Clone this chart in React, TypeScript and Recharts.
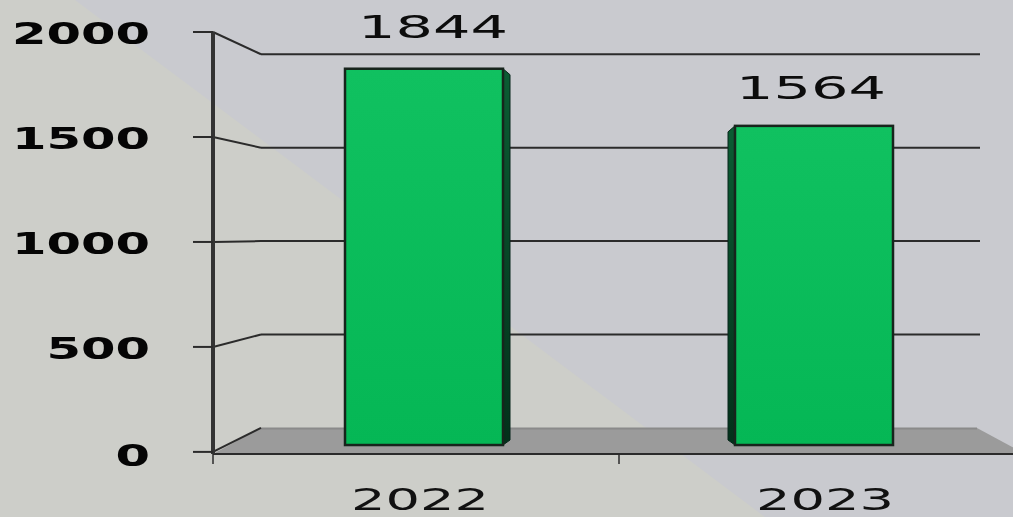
import { Bar, ComposedChart, LabelList, Line, ReferenceArea, ReferenceLine, XAxis, YAxis } from 'recharts';

const years = ['2022', '2023'];
const totals = [1844, 1564];
const yTicks = [0, 500, 1000, 1500, 2000];
const wallLines = [500, 1000, 1500, 2000];

const rows = years.map((year, i) => ({ year, total: totals[i] }));

const FONT = '"DejaVu Sans", sans-serif';
const INK = '#2b2b2b';
const DEPTH = 812; // width of the hidden depth axis
const DEPTH_STEP = 48;
const WALL_END = 767;
const BEHIND_BARS = 200;

// value on the front axis that lands on the same height as v on the back wall
const wall = (v: number) => 114 + 0.89 * v;

const floorEdge = [{ d: 0, y: 0 }, { d: DEPTH_STEP, y: wall(0) }];

function YTick({ y, payload }: any) {
  const label = String(payload.value);
  return (
    <text x={150} y={y + (payload.value === 0 ? 14 : 12)} textAnchor="end" fontFamily={FONT} fontWeight={700} fontSize={31} fill="#050505"
      textLength={label.length * 34.5} lengthAdjust="spacingAndGlyphs">
      {label}
    </text>
  );
}

function YearTick({ x, y, payload, index }: any) {
  const nudge = [4, 3][index] ?? 0;
  return (
    <g>
      <line x1={x - 203} x2={x - 203} y1={y - 8} y2={y + 2} stroke={INK} strokeWidth={1.5} />
      <text x={x + nudge} y={510} textAnchor="middle" fontFamily={FONT} fontSize={30} fill="#111"
        textLength={138} lengthAdjust="spacingAndGlyphs">
        {payload.value}
      </text>
    </g>
  );
}

function BarFace({ x, y, width, height, index }: any) {
  const side = 7;
  const edge = index === 0 ? x + width + side : x - side;
  const inner = index === 0 ? x + width : x;
  return (
    <g>
      <polygon
        points={`${inner},${y} ${edge},${y + 6} ${edge},${y + height - 5} ${inner},${y + height}`}
        fill="url(#sideFill)" stroke="#07251a" strokeWidth={1} />
      <rect x={x} y={y} width={width} height={height} fill="url(#faceFill)" stroke="#17241c" strokeWidth={2.5} />
    </g>
  );
}

function Floor({ x, y, width, height }: any) {
  return (
    <g>
      <polygon
        points={`${x},${y + height} ${x + DEPTH_STEP},${y} ${x + width - DEPTH_STEP},${y} ${x + width},${y + height}`}
        fill="#9b9b9b" />
      <line x1={x + DEPTH_STEP} x2={x + width - DEPTH_STEP} y1={y + 0.5} y2={y + 0.5} stroke="#8a8a8a" strokeWidth={2} />
    </g>
  );
}

function ValueLabel({ x, y, width, value, index }: any) {
  const nudge = [9, -3][index] ?? 0;
  const gap = [31, 27][index] ?? 0;
  return (
    <text x={x + width / 2 + nudge} y={y - gap} textAnchor="middle" fontFamily={FONT} fontSize={32} fill="#0c0c0c"
      textLength={150} lengthAdjust="spacingAndGlyphs">
      {value}
    </text>
  );
}

export default function App() {
  return (
    <div style={{ position: 'fixed', left: 0, top: 0, width: 1013, height: 517, overflow: 'hidden', background: '#c9cacf' }}>
      <div style={{
        position: 'absolute', inset: 0, background: '#cdcec9',
        clipPath: 'polygon(0 0, 75px 0, 765px 517px, 0 517px)',
      }} />
      <div style={{ position: 'absolute', left: 0, top: 0, filter: 'blur(0.6px)' }}>
        <ComposedChart width={1040} height={517} data={rows} margin={{ top: 32, right: 15, bottom: 0, left: 0 }}>
          <defs>
            <linearGradient id="faceFill" x1="0" y1="0" x2="0" y2="1">
              <stop offset="0%" stopColor="#10c160" />
              <stop offset="100%" stopColor="#05b755" />
            </linearGradient>
            <linearGradient id="sideFill" x1="0" y1="0" x2="0" y2="1">
              <stop offset="0%" stopColor="#0b5c33" />
              <stop offset="100%" stopColor="#03301a" />
            </linearGradient>
          </defs>
          <XAxis xAxisId="cat" dataKey="year" height={63} axisLine={{ stroke: INK, strokeWidth: 2 }} tickLine={false}
            tick={<YearTick />} interval={0} />
          <XAxis xAxisId="bar" dataKey="year" hide height={0} padding={{ left: 16, right: 16 }} />
          <XAxis xAxisId="depth" dataKey="d" type="number" domain={[0, DEPTH]} hide height={0} allowDataOverflow />
          <YAxis yAxisId="front" width={213} domain={[-10, 2000]} ticks={yTicks} interval={0} allowDataOverflow
            axisLine={{ stroke: '#333', strokeWidth: 4 }} tickLine={{ stroke: INK, strokeWidth: 2 }} tickSize={20}
            tick={<YTick />} />
          <YAxis yAxisId="bar" hide width={0} domain={[-44, 2024]} allowDataOverflow />

          <ReferenceArea xAxisId="depth" yAxisId="front" x1={0} x2={DEPTH} y1={-10} y2={wall(0)} shape={<Floor />} />
          <Line xAxisId="depth" yAxisId="front" data={floorEdge} dataKey="y" stroke={INK} strokeWidth={2} dot={false} isAnimationActive={false} zIndex={BEHIND_BARS} />
          {wallLines.map((v) => (
            <ReferenceLine key={`side-${v}`} xAxisId="depth" yAxisId="front" stroke={INK} strokeWidth={2} zIndex={BEHIND_BARS}
              segment={[{ x: 0, y: v }, { x: DEPTH_STEP, y: wall(v) }]} />
          ))}
          {wallLines.map((v) => (
            <ReferenceLine key={`back-${v}`} xAxisId="depth" yAxisId="front" stroke={INK} strokeWidth={2} zIndex={BEHIND_BARS}
              segment={[{ x: DEPTH_STEP, y: wall(v) }, { x: WALL_END, y: wall(v) }]} />
          ))}

          <Bar xAxisId="bar" yAxisId="bar" dataKey="total" barSize={158} shape={<BarFace />} isAnimationActive={false}>
            <LabelList dataKey="total" content={<ValueLabel />} />
          </Bar>
        </ComposedChart>
      </div>
    </div>
  );
}
